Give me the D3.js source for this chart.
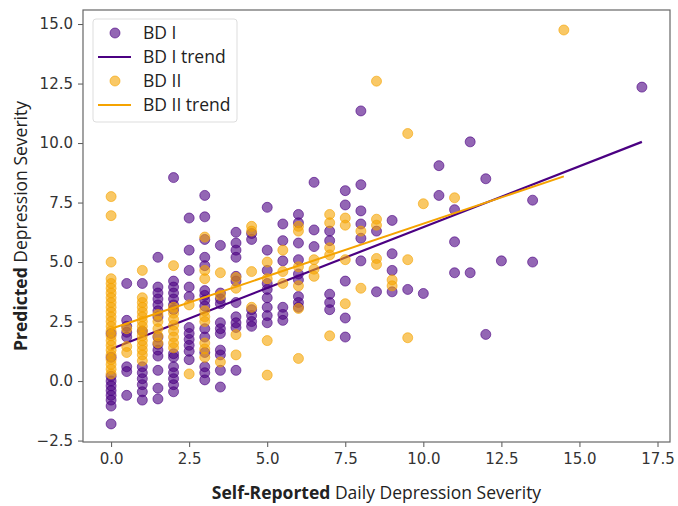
<!DOCTYPE html>
<html>
<head>
<meta charset="utf-8">
<script src="https://cdn.jsdelivr.net/npm/d3@7"></script>
<style>
  body { margin: 0; background: #fff; }
  .tick text { font-family: "DejaVu Sans", sans-serif; font-size: 15px; fill: #333; }
  .label { font-family: "Open Sans", sans-serif; font-size: 17.5px; fill: #222; }
</style>
</head>
<body>
<div class="chart"></div>
<script>
// columns of [self-reported x, list of predicted y]
var bd1Cols = [
  [0, [2.0, 1.0, 0.2, 0.0, -0.2, -0.4, -0.6, -0.8, -1.05, -1.8]],
  [0.5, [4.1, 2.55, 2.3, 2.05, 1.85, 0.6, 0.4, -0.6]],
  [1, [4.1, 2.1, 0.6, 0.35, 0.1, -0.15, -0.45, -0.8]],
  [1.5, [5.2, 3.95, 3.7, 3.45, 3.2, 2.95, 2.7, 1.85, 1.55, 1.3, 1.05, 0.45, -0.3, -0.75]],
  [2, [8.55, 4.2, 3.95, 3.7, 3.45, 3.2, 3.0, 1.15, 1.0, 0.6, 0.35, 0.1, -0.15, -0.45]],
  [2.5, [6.85, 5.5, 4.65, 3.95, 3.55, 2.25, 2.0, 1.75, 1.5, 1.25, 0.9]],
  [3, [7.8, 6.9, 5.95, 5.2, 4.85, 3.8, 3.6, 3.4, 3.15, 2.2, 1.85, 1.2, 0.6, 0.35, 0.05]],
  [3.5, [5.7, 3.7, 3.45, 3.25, 2.45, 2.2, 2.0, 1.3, 1.1, 0.45, -0.25]],
  [4, [6.25, 5.8, 5.5, 5.2, 4.4, 4.2, 3.3, 2.7, 2.45, 2.25, 0.45]],
  [4.5, [6.2, 5.95, 3.0, 2.75, 2.5, 2.3]],
  [5, [7.3, 5.5, 4.65, 4.1, 3.85, 3.5, 3.1, 2.75, 2.45]],
  [5.5, [6.6, 5.9, 5.05, 3.1, 2.8, 2.55]],
  [6, [7.0, 6.65, 5.8, 5.1, 4.5, 4.25, 3.55, 3.3, 3.1]],
  [6.5, [8.35, 6.35, 5.65]],
  [7, [6.3, 5.9, 3.65, 3.3, 3.0]],
  [7.5, [8.0, 7.4, 4.2, 2.65, 1.85]],
  [8, [11.35, 8.25, 7.15, 6.6, 6.0, 5.05]],
  [8.5, [6.3, 3.75]],
  [9, [6.75, 5.35, 4.65, 3.75]],
  [9.5, [3.85]],
  [10, [3.68]],
  [10.5, [9.05, 7.8]],
  [11, [7.2, 5.85, 4.55]],
  [11.5, [10.05, 4.55]],
  [12, [8.5, 1.96]],
  [12.5, [5.05]],
  [13.5, [7.6, 5.0]],
  [17, [12.35]]
];

var bd2Cols = [
  [0, [7.75, 6.95, 5.0, 4.3, 4.1, 3.9, 3.7, 3.5, 3.3, 3.1, 2.9, 2.7, 2.5, 2.3, 2.1, 1.9, 1.7, 1.5, 1.3, 1.1, 0.9, 0.7, 0.5, 0.3]],
  [0.5, [2.2, 1.45, 1.2]],
  [1, [4.65, 3.5, 3.3, 3.1, 2.9, 2.7, 2.5, 2.3, 2.1, 1.9, 1.7, 1.5, 1.3, 1.1, 0.85]],
  [1.5, [2.8, 2.5, 2.2, 1.9, 1.6]],
  [2, [4.85, 3.1, 2.85, 2.6, 2.35, 2.1, 1.85, 1.6, 1.4]],
  [2.5, [3.2, 0.3]],
  [3, [6.05, 4.65, 4.3, 2.95, 2.7, 2.5, 1.6, 1.35, 1.0]],
  [3.5, [4.55, 3.6, 0.8]],
  [4, [4.35, 3.9, 1.95, 1.1]],
  [4.5, [6.5, 6.3, 4.6, 3.1]],
  [5, [5.0, 4.3, 1.7, 0.25]],
  [5.5, [5.5, 4.6, 4.1]],
  [6, [6.5, 6.3, 4.8, 4.0, 3.05, 0.95]],
  [6.5, [5.1, 4.7, 4.4]],
  [7, [7.0, 6.65, 5.6, 5.3, 1.9]],
  [7.5, [6.85, 6.55, 5.1, 3.25]],
  [8, [6.3, 3.9]],
  [8.5, [12.6, 6.8, 6.55, 5.15, 4.9]],
  [9, [4.25, 4.0]],
  [9.5, [10.4, 5.1, 1.82]],
  [10, [7.45]],
  [11, [7.7]],
  [14.5, [14.75]]
];

// trend line end points
var bd1TrendX = [0, 17];
var bd1TrendY = [1.35, 10.05];
var bd2TrendX = [0, 14.5];
var bd2TrendY = [2.2, 8.6];

var xTicks = [0, 2.5, 5, 7.5, 10, 12.5, 15, 17.5];
var yTicks = [-2.5, 0, 2.5, 5, 7.5, 10, 12.5, 15];

var legendLabels = ["BD I", "BD I trend", "BD II", "BD II trend"];

var purple = "#4b0082";
var orange = "#f5a300";

var svgWidth = 678;
var svgHeight = 506;
var margin = { top: 10, right: 8, bottom: 64, left: 83 };
var width = svgWidth - margin.left - margin.right;
var height = svgHeight - margin.top - margin.bottom;

var svg = d3.select(".chart")
  .append("svg")
  .attr("width", svgWidth)
  .attr("height", svgHeight);

var chartGroup = svg.append("g")
  .attr("transform", `translate(${margin.left}, ${margin.top})`);

var xScale = d3.scaleLinear().domain([-0.9, 17.9]).range([0, width]);
var yScale = d3.scaleLinear().domain([-2.56, 15.59]).range([height, 0]);

// flatten the columns into points
function flatten(cols) {
  var pts = [];
  cols.forEach(function(c) {
    c[1].forEach(function(v) { pts.push({ x: c[0], y: v }); });
  });
  return pts;
}
var bd1 = flatten(bd1Cols);
var bd2 = flatten(bd2Cols);

// axes
var xAxis = d3.axisBottom(xScale).tickValues(xTicks).tickFormat(d3.format(".1f")).tickSize(5).tickPadding(6);
var yAxis = d3.axisLeft(yScale).tickValues(yTicks).tickFormat(d3.format(".1f")).tickSize(5).tickPadding(5);

chartGroup.append("g")
  .attr("transform", `translate(0, ${height})`)
  .call(xAxis)
  .call(g => g.select(".domain").remove())
  .selectAll("line").attr("stroke", "#555");

chartGroup.append("g")
  .call(yAxis)
  .call(g => g.select(".domain").remove())
  .selectAll("line").attr("stroke", "#555");

// frame
chartGroup.append("rect")
  .attr("width", width)
  .attr("height", height)
  .attr("fill", "none")
  .attr("stroke", "#666")
  .attr("stroke-width", 1.2);

function drawDots(data, color) {
  chartGroup.append("g")
    .selectAll("circle")
    .data(data)
    .enter()
    .append("circle")
    .attr("cx", d => xScale(d.x))
    .attr("cy", d => yScale(d.y))
    .attr("r", 5)
    .attr("fill", color)
    .attr("fill-opacity", 0.6)
    .attr("stroke", color)
    .attr("stroke-opacity", 0.6)
    .attr("stroke-width", 1);
}

var line = d3.line().x(d => xScale(d[0])).y(d => yScale(d[1]));

// BD I then its trend, BD II then its trend
drawDots(bd1, purple);
chartGroup.append("path")
  .attr("d", line(d3.zip(bd1TrendX, bd1TrendY)))
  .attr("fill", "none")
  .attr("stroke", purple)
  .attr("stroke-width", 2.2);

drawDots(bd2, orange);
chartGroup.append("path")
  .attr("d", line(d3.zip(bd2TrendX, bd2TrendY)))
  .attr("fill", "none")
  .attr("stroke", orange)
  .attr("stroke-width", 2);

// legend
var legend = chartGroup.append("g").attr("transform", "translate(10, 9)");
legend.append("rect")
  .attr("width", 144)
  .attr("height", 103)
  .attr("rx", 3)
  .attr("fill", "#fff")
  .attr("fill-opacity", 0.8)
  .attr("stroke", "#ddd");

legendLabels.forEach(function(lab, i) {
  var yy = 14 + i * 24;
  var col = i < 2 ? purple : orange;
  if (i % 2 === 0) {
    legend.append("circle").attr("cx", 22).attr("cy", yy).attr("r", 5)
      .attr("fill", col).attr("fill-opacity", 0.6)
      .attr("stroke", col).attr("stroke-opacity", 0.6);
  } else {
    legend.append("line").attr("x1", 5).attr("x2", 38).attr("y1", yy).attr("y2", yy)
      .attr("stroke", col).attr("stroke-width", 2);
  }
  legend.append("text")
    .attr("class", "label")
    .attr("x", 50)
    .attr("y", yy)
    .attr("dy", "0.35em")
    .text(lab);
});

// axis labels with bold lead word
var xLabel = svg.append("text")
  .attr("class", "label")
  .attr("x", margin.left + width / 2)
  .attr("y", 499)
  .attr("text-anchor", "middle");
xLabel.append("tspan").attr("font-weight", "bold").text("Self-Reported");
xLabel.append("tspan").text(" Daily Depression Severity");

var yLabel = svg.append("text")
  .attr("class", "label")
  .attr("transform", `translate(27, ${margin.top + height / 2}) rotate(-90)`)
  .attr("text-anchor", "middle");
yLabel.append("tspan").attr("font-weight", "bold").text("Predicted");
yLabel.append("tspan").text(" Depression Severity");
</script>
</body>
</html>
